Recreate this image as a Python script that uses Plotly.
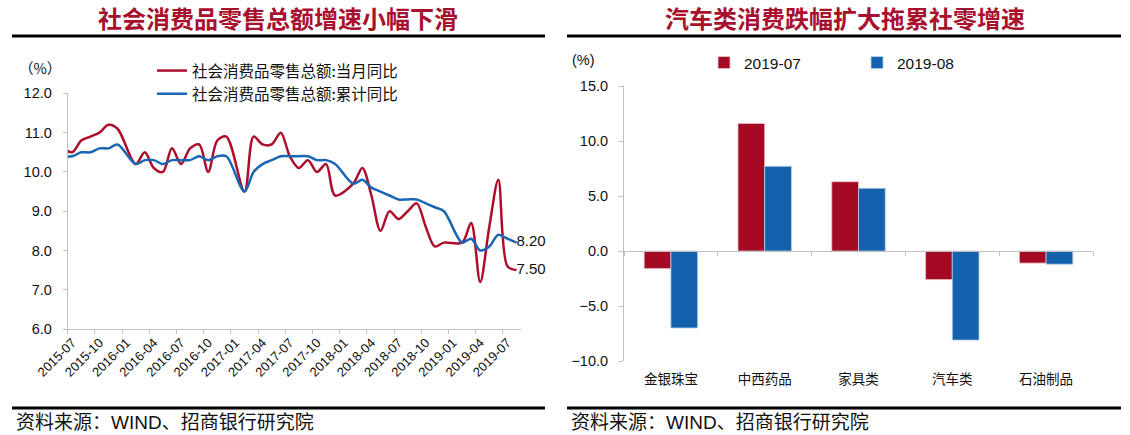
import plotly.graph_objects as go

# ---------------- data ----------------
months = [
    "2015-06", "2015-07", "2015-08", "2015-09", "2015-10", "2015-11", "2015-12",
    "2016-01", "2016-02", "2016-03", "2016-04", "2016-05", "2016-06",
    "2016-07", "2016-08", "2016-09", "2016-10", "2016-11", "2016-12",
    "2017-01", "2017-02", "2017-03", "2017-04", "2017-05", "2017-06",
    "2017-07", "2017-08", "2017-09", "2017-10", "2017-11", "2017-12",
    "2018-01", "2018-02", "2018-03", "2018-04", "2018-05", "2018-06",
    "2018-07", "2018-08", "2018-09", "2018-10", "2018-11", "2018-12",
    "2019-01", "2019-02", "2019-03", "2019-04", "2019-05", "2019-06",
    "2019-07", "2019-08",
]
retail_monthly_yoy = [
    10.6, 10.5, 10.8, 10.9, 11.0, 11.2, 11.1,
    None, 10.2, 10.5, 10.1, 10.0, 10.6,
    10.2, 10.6, 10.7, 10.0, 10.8, 10.9,
    None, 9.5, 10.9, 10.7, 10.7, 11.0,
    10.4, 10.1, 10.3, 10.0, 10.2, 9.4,
    None, 9.7, 10.1, 9.4, 8.5, 9.0,
    8.8, 9.0, 9.2, 8.6, 8.1, 8.2,
    None, 8.2, 8.7, 7.2, 8.6, 9.8,
    7.6, 7.5,
]
retail_cum_yoy = [
    10.4, 10.4, 10.5, 10.5, 10.6, 10.6, 10.7,
    None, 10.2, 10.3, 10.3, 10.2, 10.3,
    10.3, 10.3, 10.4, 10.3, 10.4, 10.4,
    None, 9.5, 10.0, 10.2, 10.3, 10.4,
    10.4, 10.4, 10.4, 10.3, 10.3, 10.2,
    None, 9.7, 9.8, 9.6, 9.5, 9.4,
    9.3, 9.3, 9.3, 9.2, 9.1, 9.0,
    None, 8.2, 8.3, 8.0, 8.1, 8.4,
    8.3, 8.2,
]
name_monthly = "社会消费品零售总额:当月同比"
name_cum = "社会消费品零售总额:累计同比"

bar_categories = ["金银珠宝", "中西药品", "家具类", "汽车类", "石油制品"]
bar_2019_07 = [-1.6, 11.6, 6.3, -2.6, -1.1]
bar_2019_08 = [-7.0, 7.7, 5.7, -8.1, -1.2]

left_title = "社会消费品零售总额增速小幅下滑"
right_title = "汽车类消费跌幅扩大拖累社零增速"
source_text = "资料来源：WIND、招商银行研究院"

# ---------------- style ----------------
W, H = 1130, 435
RED_LINE = "#AC0E2C"
BLUE_LINE = "#1866B4"
RED_BAR = "#A50A24"
BLUE_BAR = "#1461AD"
TITLE_COLOR = "#A8102E"
AXIS_GRAY = "#BFBFBF"
CJK = "Noto Sans CJK SC"
LAT = "Liberation Sans, Arial, Noto Sans CJK SC"


def px_x(p):
    return p / W


def px_y(p):
    return 1 - p / H


fig = go.Figure()

# left chart lines
fig.add_trace(go.Scatter(
    x=months, y=retail_monthly_yoy, name=name_monthly, mode="lines",
    line=dict(color=RED_LINE, width=2.5, shape="spline", smoothing=0.9),
    connectgaps=True, xaxis="x", yaxis="y", legend="legend",
))
fig.add_trace(go.Scatter(
    x=months, y=retail_cum_yoy, name=name_cum, mode="lines",
    line=dict(color=BLUE_LINE, width=2.5, shape="spline", smoothing=0.9),
    connectgaps=True, xaxis="x", yaxis="y", legend="legend",
))
# end labels
fig.add_trace(go.Scatter(
    x=[months[-1], months[-1]],
    y=[retail_cum_yoy[-1], retail_monthly_yoy[-1]],
    text=[f"{retail_cum_yoy[-1]:.2f}", f"{retail_monthly_yoy[-1]:.2f}"],
    mode="text", textposition="middle right", cliponaxis=False,
    textfont=dict(family=LAT, size=15, color="#111111"),
    showlegend=False, hoverinfo="skip", xaxis="x", yaxis="y",
))

# right chart bars
fig.add_trace(go.Bar(
    x=bar_categories, y=bar_2019_07, name="2019-07",
    marker=dict(color=RED_BAR, line=dict(color="#E8C6CC", width=0.8)),
    xaxis="x2", yaxis="y2", legend="legend2",
))
fig.add_trace(go.Bar(
    x=bar_categories, y=bar_2019_08, name="2019-08",
    marker=dict(color=BLUE_BAR, line=dict(color="#B8CDE6", width=0.8)),
    xaxis="x2", yaxis="y2", legend="legend2",
))
# dummy trace to activate the zero-crossing axis (x3)
fig.add_trace(go.Scatter(
    x=bar_categories, y=[None] * len(bar_categories), xaxis="x3", yaxis="y2",
    showlegend=False, hoverinfo="skip", mode="lines",
))

left_dom_x = [px_x(67.7), px_x(521)]
left_dom_y = [px_y(329), px_y(93.4)]
right_dom_x = [px_x(624), px_x(1093)]
right_dom_y = [px_y(361), px_y(86)]

zero_pos = right_dom_y[0] + (right_dom_y[1] - right_dom_y[0]) * (0 - (-10)) / (15 - (-10))

fig.update_layout(
    template="none",
    width=W, height=H, autosize=False,
    margin=dict(l=0, r=0, t=0, b=0, pad=0),
    paper_bgcolor="white", plot_bgcolor="white",
    barmode="group", bargap=0.43, bargroupgap=0.0,
    xaxis=dict(
        domain=left_dom_x, anchor="y", type="category", automargin=False,
        categoryorder="array", categoryarray=months,
        range=[0.5, len(months) - 0.5],
        tickmode="linear", tick0=1, dtick=3, tickson="boundaries",
        tickangle=-45, ticks="outside", ticklen=4, tickcolor=AXIS_GRAY,
        showline=True, linecolor=AXIS_GRAY, linewidth=1,
        showgrid=False, zeroline=False,
        tickfont=dict(family=LAT, size=13, color="#111111"),
    ),
    yaxis=dict(
        domain=left_dom_y, anchor="x", range=[6, 12], dtick=1, tick0=6,
        automargin=False,
        tickformat=".1f", ticks="outside", ticklen=4, tickcolor=AXIS_GRAY,
        showline=True, linecolor=AXIS_GRAY, linewidth=1,
        showgrid=False, zeroline=False, ticklabelstandoff=8,
        tickfont=dict(family=LAT, size=14.5, color="#111111"),
    ),
    xaxis2=dict(
        domain=right_dom_x, anchor="y2", type="category", automargin=False,
        showline=False, ticks="", showgrid=False, zeroline=False,
        ticklabelstandoff=8,
        tickfont=dict(family=CJK, size=13.5, color="#111111"),
    ),
    xaxis3=dict(
        domain=right_dom_x, anchor="free", position=zero_pos, automargin=False,
        overlaying="x2", matches="x2", type="category",
        showline=True, linecolor=AXIS_GRAY, linewidth=1,
        ticks="outside", ticklen=4, tickcolor=AXIS_GRAY, tickson="boundaries",
        showticklabels=False, showgrid=False, zeroline=False,
    ),
    yaxis2=dict(
        domain=right_dom_y, anchor="x2", range=[-10, 15], dtick=5, tick0=-10,
        automargin=False,
        tickformat=".1f", ticks="outside", ticklen=4, tickcolor=AXIS_GRAY,
        showline=True, linecolor=AXIS_GRAY, linewidth=1,
        showgrid=False, zeroline=False, ticklabelstandoff=8,
        tickfont=dict(family=LAT, size=14.5, color="#111111"),
    ),
    legend=dict(
        x=px_x(152), y=px_y(54), xanchor="left", yanchor="top",
        bgcolor="rgba(0,0,0,0)", orientation="v", tracegroupgap=0,
        borderwidth=0,
        font=dict(family=CJK, size=15.5, color="#111111"),
    ),
    legend2=dict(
        x=px_x(704), y=px_y(46), xanchor="left", yanchor="top",
        bgcolor="rgba(0,0,0,0)", orientation="h", borderwidth=0,
        entrywidth=108, entrywidthmode="pixels",
        font=dict(family=LAT, size=15.5, color="#111111"),
    ),
    showlegend=True,
)

# titles
for txt, cx in [(left_title, 278), (right_title, 845)]:
    fig.add_annotation(text=f"<b>{txt}</b>", x=px_x(cx), y=px_y(18),
                       xanchor="center", yanchor="middle",
                       xref="paper", yref="paper", showarrow=False,
                       font=dict(family=CJK, size=24, color=TITLE_COLOR))
# unit labels
fig.add_annotation(text="（%）", x=px_x(40), y=px_y(68), xanchor="center", yanchor="middle",
                   xref="paper", yref="paper", showarrow=False,
                   font=dict(family=CJK, size=14.5, color="#111111"))
fig.add_annotation(text="(%)", x=px_x(583), y=px_y(60), xanchor="center", yanchor="middle",
                   xref="paper", yref="paper", showarrow=False,
                   font=dict(family=LAT, size=14.5, color="#111111"))
# footers
for fx in (14, 569):
    fig.add_annotation(text=source_text, x=px_x(fx), y=px_y(422),
                       xanchor="left", yanchor="middle",
                       xref="paper", yref="paper", showarrow=False,
                       font=dict(family=LAT, size=19, color="#111111"))

# title / footer rules
for (x0, x1) in [(12, 545), (567, 1121)]:
    fig.add_shape(type="line", xref="paper", yref="paper",
                  x0=px_x(x0), x1=px_x(x1), y0=px_y(36), y1=px_y(36),
                  line=dict(color="black", width=3))
    fig.add_shape(type="line", xref="paper", yref="paper",
                  x0=px_x(x0), x1=px_x(x1), y0=px_y(408), y1=px_y(408),
                  line=dict(color="black", width=3))

fig.write_html(
    "out.html",
    config={"displayModeBar": False},
    post_script="document.body.style.margin='0';document.body.style.overflow='hidden';",
)
